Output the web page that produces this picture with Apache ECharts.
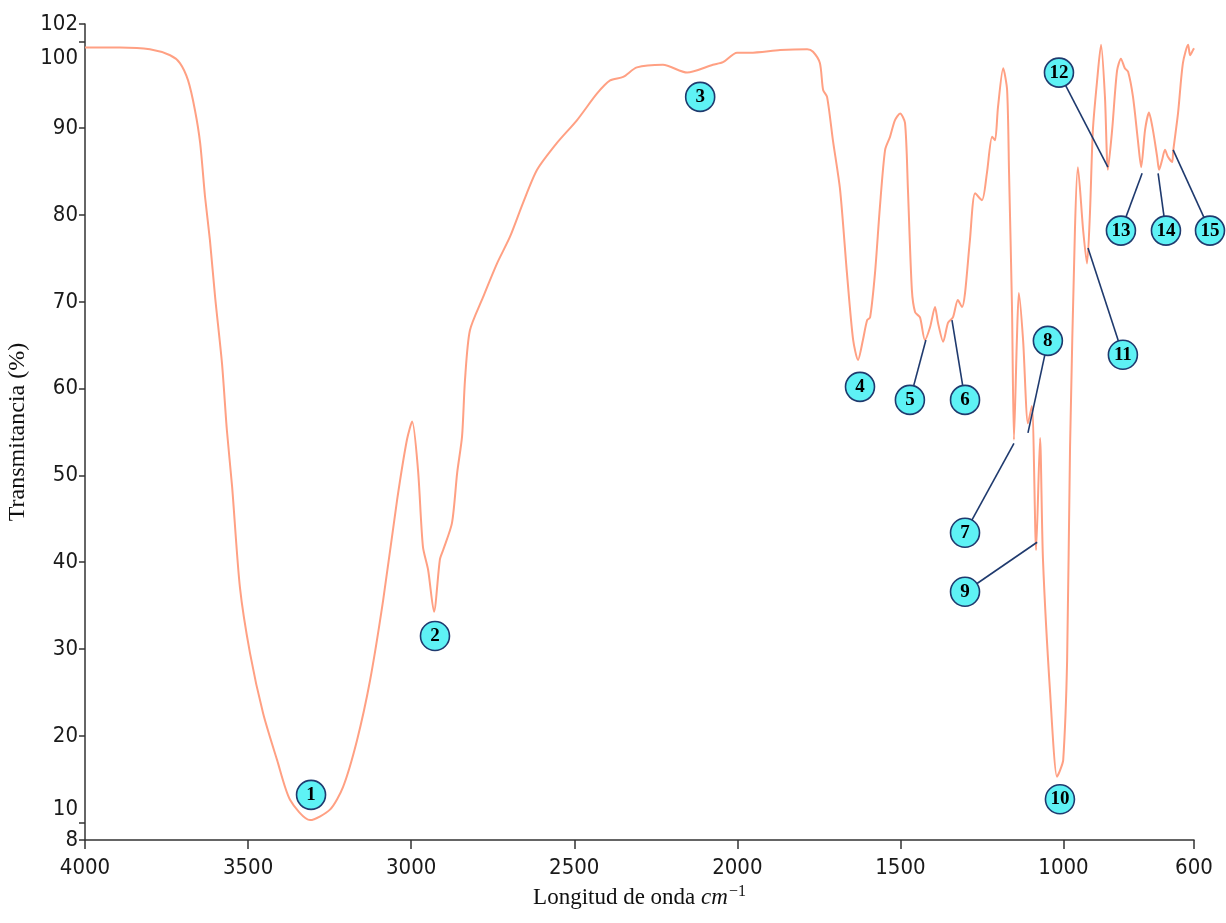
<!DOCTYPE html>
<html>
<head>
<meta charset="utf-8">
<script src="https://cdn.jsdelivr.net/npm/echarts@6/dist/echarts.min.js"></script>
<style>
html,body{margin:0;padding:0;background:#fff;}
#chart{width:1226px;height:923px;}
</style>
</head>
<body>
<div id="chart"></div>
<script>
// Wavenumber (cm^-1) and transmittance (%)
const wavenumbers = [4000,3893,3801,3739,3709,3684,3663,3647,3632,3617,3601,3580,3565,3549,3525,3494,3454,3411,3371,3310,3249,3209,3166,3126,3086,3043,3013,2997,2979,2964,2948,2930,2912,2902,2875,2859,2844,2835,2820,2780,2737,2697,2657,2614,2553,2492,2430,2390,2350,2308,2228,2154,2075,2044,2001,1961,1869,1786,1768,1747,1737,1725,1707,1685,1664,1645,1630,1615,1602,1593,1578,1563,1547,1532,1517,1501,1486,1477,1465,1455,1440,1425,1409,1394,1385,1369,1354,1339,1324,1311,1302,1287,1271,1250,1235,1219,1210,1201,1185,1173,1167,1158,1152,1143,1137,1124,1109,1097,1084,1072,1063,1041,1020,1011,1001,989,980,965,956,940,928,919,910,897,885,873,864,851,836,824,812,802,787,772,762,750,738,726,713,707,698,689,680,667,664,649,634,618,612,603,600];
const transmittance = [99.3,99.3,99.1,98.4,97.5,95.5,92.1,88.3,82.1,77.1,70.5,62.9,55.2,48.7,37.1,29.5,22.6,17.2,12.6,10.3,11.5,14.1,19.5,26.4,35.6,47.2,54.1,56.2,50.6,41.8,39.1,34.3,40.3,41.4,44.5,50.3,54.5,61.0,66.7,70.5,74.4,77.5,81.4,85.2,88.3,90.9,94.0,95.5,95.9,97.0,97.3,96.4,97.3,97.6,98.7,98.7,99.0,99.1,98.8,97.5,94.4,93.6,88.6,82.9,73.3,65.6,63.3,65.6,67.9,68.2,73.3,80.9,87.5,89.0,90.9,91.7,90.6,82.9,71.4,68.8,68.2,65.6,67.1,69.4,67.6,65.4,67.6,68.2,70.2,69.4,71.0,77.1,82.5,81.7,84.8,89.0,88.6,92.4,96.9,94.4,84.8,69.4,54.1,65.6,71.0,65.6,56.0,58.0,41.4,54.3,40.3,24.9,15.3,16.0,17.2,28.7,53.3,78.3,85.5,78.3,74.4,80.2,89.8,95.5,99.6,93.6,85.2,89.8,96.6,98.0,96.9,96.5,93.6,88.6,85.5,89.8,91.8,89.8,86.7,85.2,86.3,87.5,86.7,86.1,87.3,91.7,97.5,99.6,98.4,99.0,99.2];

// Axis tick values
const xTicks = [4000,3500,3000,2500,2000,1500,1000,600];
const yTicks = [8,10,20,30,40,50,60,70,80,90,100,102];

// Band annotations: label, marker position (cm^-1, %), leader target (null = no leader)
const annLabels = ['1','2','3','4','5','6','7','8','9','10','11','12','13','14','15'];
const annWn     = [3307,2927,2114,1624,1471,1302,1302,1048,1302,1011,818,1014,824,686,551];
const annT      = [13.2,31.5,93.6,60.2,58.7,58.7,43.4,65.5,36.6,12.7,63.9,96.4,78.2,78.2,78.2];
const leadWn    = [null,null,null,null,1422,1342,1152,1109,1081,null,925,864,759,710,664];
const leadT     = [null,null,null,null,65.6,67.9,53.7,54.9,42.3,null,76.2,85.5,84.8,84.8,87.5];

const spectrum = wavenumbers.map((w,i)=>[w, transmittance[i]]);
const markers = annLabels.map((l,i)=>({name:l, value:[annWn[i], annT[i]]}));
const leaders = [];
annLabels.forEach((l,i)=>{
  if (leadWn[i] !== null) leaders.push({coords:[[annWn[i], annT[i]],[leadWn[i], leadT[i]]]});
});

const tickFont = '"Liberation Sans Narrow", "DejaVu Sans Condensed", "Arial Narrow", sans-serif';
const serif = '"Liberation Serif", "DejaVu Serif", serif';

const chart = echarts.init(document.getElementById('chart'), null, {renderer:'canvas'});
chart.setOption({
  animation:false,
  backgroundColor:'#ffffff',
  grid:{left:85, right:32, top:24, bottom:83, containLabel:false, outerBoundsMode:'none'},
  xAxis:{
    type:'value', min:600, max:4000, inverse:true,
    name:'Longitud de onda {i|cm}{s|\u22121}',
    nameLocation:'middle', nameGap:42,
    nameTextStyle:{fontFamily:serif, fontSize:23, color:'#111',
      rich:{i:{fontFamily:serif, fontStyle:'italic', fontSize:23, color:'#111'},
            s:{fontFamily:serif, fontSize:16, color:'#111', padding:[0,0,12,1]}}},
    axisLine:{show:true, lineStyle:{color:'#333', width:1.5}},
    axisTick:{show:true, customValues:xTicks, length:9, lineStyle:{color:'#333', width:1.5}},
    axisLabel:{customValues:xTicks, fontFamily:tickFont, fontSize:22, color:'#1a1a1a', margin:17,
      formatter:function(v){ return String(v); }},
    splitLine:{show:false}
  },
  yAxis:{
    type:'value', min:8, max:102,
    name:'Transmitancia (%)', nameLocation:'middle', nameGap:52,
    nameTextStyle:{fontFamily:serif, fontSize:24, color:'#111'},
    axisLine:{show:true, lineStyle:{color:'#333', width:1.5}},
    axisTick:{show:true, customValues:yTicks, length:6, lineStyle:{color:'#333', width:1.5}},
    axisLabel:{customValues:yTicks, fontFamily:tickFont, fontSize:22, color:'#1a1a1a', margin:7,
      formatter:function(v){
        if (v===100) return '{dn|100}';
        if (v===10) return '{up|10}';
        return String(v);
      },
      rich:{dn:{fontFamily:tickFont, fontSize:22, color:'#1a1a1a', padding:[34,0,0,0]},
            up:{fontFamily:tickFont, fontSize:22, color:'#1a1a1a', padding:[0,0,26,0]}}},
    splitLine:{show:false}
  },
  series:[
    {
      type:'line', data:spectrum, showSymbol:false, smooth:0.25,
      lineStyle:{color:'#ffa083', width:2}, z:2
    },
    {
      type:'lines', coordinateSystem:'cartesian2d', data:leaders, clip:false,
      lineStyle:{color:'#1f3a6e', width:1.6, opacity:1}, z:3, silent:true
    },
    {
      type:'scatter', data:markers, symbol:'circle', symbolSize:29, clip:false, z:4,
      itemStyle:{color:'#5ef2f5', borderColor:'#1f3a6e', borderWidth:1.6, opacity:1},
      label:{show:true, position:'inside', formatter:'{b}', fontFamily:serif,
        fontWeight:'bold', fontSize:19, color:'#000'}
    }
  ]
});
</script>
</body>
</html>
